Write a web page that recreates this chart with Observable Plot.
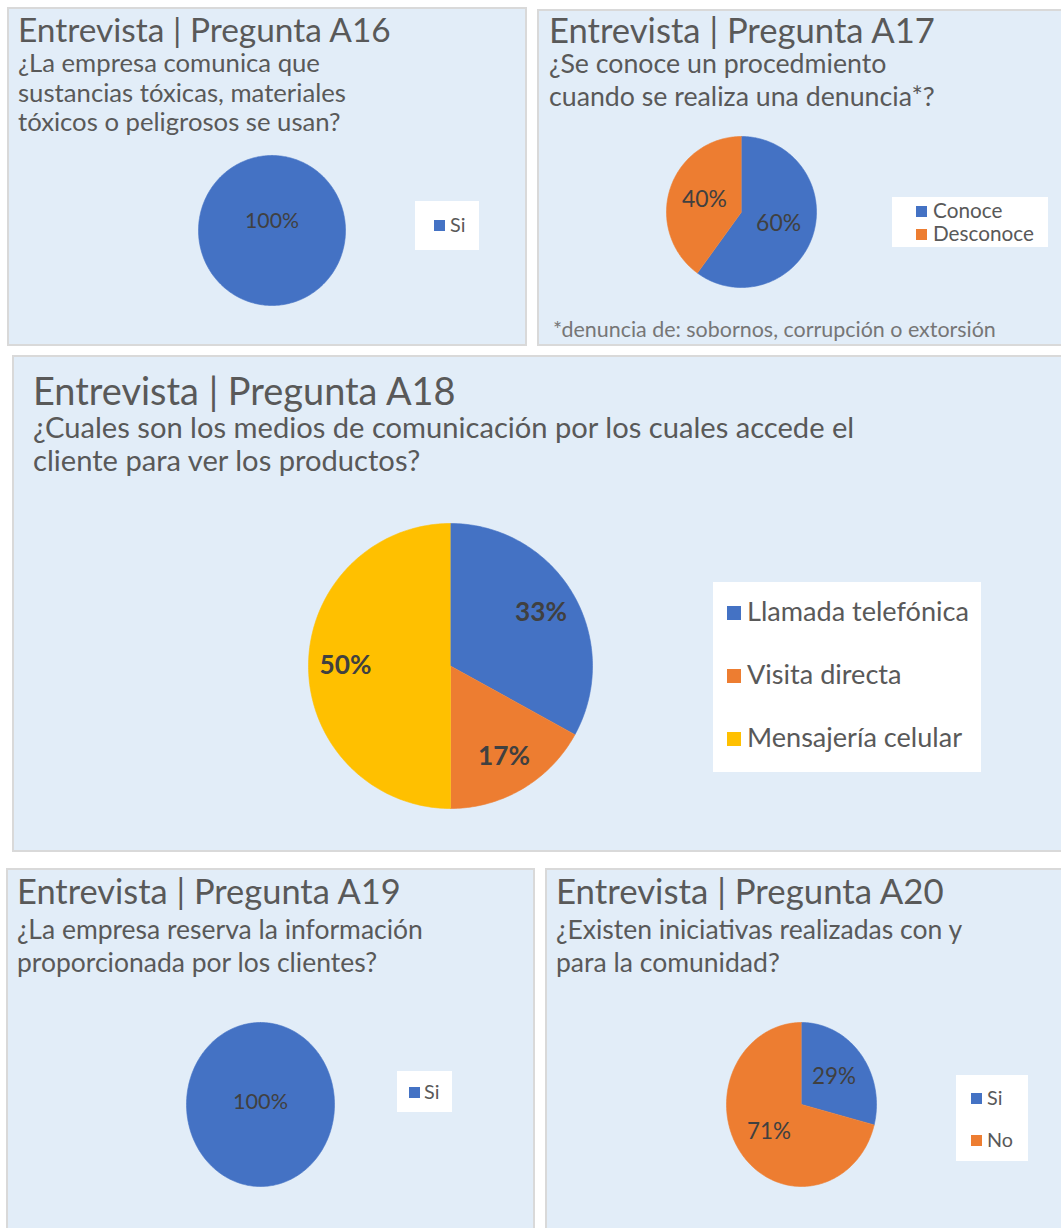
<!DOCTYPE html>
<html lang="es">
<head>
<meta charset="utf-8">
<script src="https://cdn.jsdelivr.net/npm/d3@7"></script>
<script src="https://cdn.jsdelivr.net/npm/@observablehq/plot@0.6"></script>
<style>
html,body{margin:0;padding:0;background:#fff;}
#page{position:relative;width:1061px;height:1228px;overflow:hidden;font-family:Lato,"Noto Sans",sans-serif;}
#page > svg.bg{position:absolute;left:0;top:0;}
.pie{position:absolute;}
.pie svg{display:block;background:transparent !important;max-width:none !important;overflow:visible;}
</style>
</head>
<body>
<div id="page"></div>
<script>
// ---------------- data ----------------
const questionIds = ["A16", "A17", "A18", "A19", "A20"];
const titleTexts = questionIds.map(q => `Entrevista | Pregunta ${q}`);
const questionLines = [
  ["¿La empresa comunica que", "sustancias tóxicas, materiales", "tóxicos o peligrosos se usan?"],
  ["¿Se conoce un procedmiento", "cuando se realiza una denuncia*?"],
  ["¿Cuales son los medios de comunicación por los cuales accede el", "cliente para ver los productos?"],
  ["¿La empresa reserva la información", "proporcionada por los clientes?"],
  ["¿Existen iniciativas realizadas con y", "para la comunidad?"]
];
const a17Note = "*denuncia de: sobornos, corrupción o extorsión";

const a16Categories = ["Si"];
const a16Values = [100];
const a17Categories = ["Conoce", "Desconoce"];
const a17Values = [60, 40];
const a18Categories = ["Llamada telefónica", "Visita directa", "Mensajería celular"];
const a18Values = [33, 17, 50];
const a19Categories = ["Si"];
const a19Values = [100];
const a20Categories = ["Si", "No"];
const a20Values = [29, 71];
const sliceColors = ["#4472C4", "#ED7D31", "#FFC000"];

const series = [
  {cats: a16Categories, vals: a16Values},
  {cats: a17Categories, vals: a17Values},
  {cats: a18Categories, vals: a18Values},
  {cats: a19Categories, vals: a19Values},
  {cats: a20Categories, vals: a20Values}
];

// ---------------- layout ----------------
const W = 1061, H = 1228;
const FONT = "Lato";
const panelBoxes = [
  {x: 7, y: 7, w: 520, h: 339},
  {x: 537, y: 9, w: 530, h: 337},
  {x: 12, y: 355, w: 1055, h: 497},
  {x: 6, y: 868, w: 529, h: 370},
  {x: 545, y: 868, w: 522, h: 370}
];
const textLayout = [
  {x: 18, titleBase: 42, titleW: 374, subBase: [72, 102, 131], subRef: 1, subW: 328},
  {x: 549, titleBase: 43, titleW: 387, subBase: [73, 106], subRef: 1, subW: 386},
  {x: 33, titleBase: 405, titleW: 424, subBase: [438, 471], subRef: 0, subW: 822},
  {x: 17, titleBase: 904, titleW: 385, subBase: [939, 972], subRef: 0, subW: 406},
  {x: 556, titleBase: 904, titleW: 389, subBase: [939, 972], subRef: 0, subW: 407}
];
const noteLayout = {x: 553, base: 337, w: 443};
const pieLayout = [
  {cx: 271.5, cy: 230, rx: 73.5, ry: 75, labelR: 0, dy: -9, refW: 54, weight: "normal"},
  {cx: 741, cy: 211.5, rx: 75, ry: 75.5, labelR: 0.52, dy: 0, refW: 45, weight: "normal"},
  {cx: 450, cy: 665.5, rx: 142, ry: 142.5, labelR: 0.74, dy: 0, refW: 52, weight: "bold"},
  {cx: 260, cy: 1104, rx: 74, ry: 82, labelR: 0, dy: -2, refW: 55, weight: "normal"},
  {cx: 801, cy: 1104, rx: 75, ry: 82, labelR: 0.55, dy: 0, refW: 44, weight: "normal"}
];
const legendLayout = [
  {x: 415, y: 201, w: 64, h: 49, mx: 434, ms: 11, tx: 450, base: [232], refW: 26, refText: "No"},
  {x: 892, y: 197, w: 156, h: 50, mx: 916, ms: 11, tx: 933, base: [218, 241], refW: 101, refText: "Desconoce"},
  {x: 713, y: 582, w: 268, h: 190, mx: 727, ms: 14, tx: 747, base: [621, 684, 747], refW: 222, refText: "Llamada telefónica"},
  {x: 397, y: 1071, w: 55, h: 41, mx: 409, ms: 11, tx: 424, base: [1099], refW: 26, refText: "No"},
  {x: 956, y: 1075, w: 72, h: 86, mx: 971, ms: 11, tx: 987, base: [1105, 1147], refW: 26, refText: "No"}
];

// font-size fitting via canvas measurement
const ctx = document.createElement("canvas").getContext("2d");
function fitSize(text, target, weight = "normal") {
  ctx.font = `${weight} 100px ${FONT}`;
  return 100 * target / ctx.measureText(text).width;
}

const page = d3.select("#page");
const svg = page.append("svg").attr("class", "bg").attr("width", W).attr("height", H)
  .attr("font-family", FONT);

// panels
svg.selectAll("rect.panel").data(panelBoxes).join("rect")
  .attr("class", "panel")
  .attr("x", d => d.x + 1).attr("y", d => d.y + 1)
  .attr("width", d => d.w - 2).attr("height", d => d.h - 2)
  .attr("fill", "#E2EDF8").attr("stroke", "#D9D9D9").attr("stroke-width", 2);

// titles and questions
textLayout.forEach((t, i) => {
  const fsT = fitSize(titleTexts[i], t.titleW);
  svg.append("text").attr("x", t.x).attr("y", t.titleBase)
    .attr("font-size", fsT).attr("fill", "#595959").text(titleTexts[i]);
  const fsS = fitSize(questionLines[i][t.subRef], t.subW);
  questionLines[i].forEach((line, j) => {
    svg.append("text").attr("x", t.x).attr("y", t.subBase[j])
      .attr("font-size", fsS).attr("fill", "#595959").text(line);
  });
});
svg.append("text").attr("x", noteLayout.x).attr("y", noteLayout.base)
  .attr("font-size", fitSize(a17Note, noteLayout.w)).attr("fill", "#767676").text(a17Note);

// legends
legendLayout.forEach((L, i) => {
  const g = svg.append("g");
  g.append("rect").attr("x", L.x).attr("y", L.y).attr("width", L.w).attr("height", L.h).attr("fill", "#fff");
  const fs = fitSize(L.refText, L.refW);
  series[i].cats.forEach((c, j) => {
    g.append("rect").attr("x", L.mx).attr("y", L.base[j] - L.ms - 1)
      .attr("width", L.ms).attr("height", L.ms).attr("fill", sliceColors[j]);
    g.append("text").attr("x", L.tx).attr("y", L.base[j]).attr("font-size", fs)
      .attr("fill", "#595959").text(c);
  });
});

// pies drawn with Plot
function piePlot(cats, vals, P) {
  const total = d3.sum(vals);
  const arcs = d3.pie().sort(null)(vals);
  const pts = [];
  const labels = [];
  arcs.forEach((a, i) => {
    const span = a.endAngle - a.startAngle;
    const full = span >= 2 * Math.PI - 1e-9;
    if (!full) pts.push({x: 0, y: 0, k: cats[i]});
    const n = Math.max(4, Math.ceil(span * 180 / Math.PI));
    for (let j = 0; j <= n; j++) {
      const t = a.startAngle + span * j / n;
      pts.push({x: Math.sin(t), y: Math.cos(t), k: cats[i]});
    }
    const m = (a.startAngle + a.endAngle) / 2;
    const r = full ? 0 : P.labelR;
    labels.push({x: r * Math.sin(m), y: r * Math.cos(m), t: Math.round(vals[i] / total * 100) + "%"});
  });
  const fs = fitSize(labels.reduce((a, b) => b.t.length > a.length ? b.t : a, ""), P.refW, P.weight);
  return Plot.plot({
    width: 2 * P.rx, height: 2 * P.ry, margin: 0,
    x: {domain: [-1, 1], axis: null},
    y: {domain: [-1, 1], axis: null},
    color: {domain: cats, range: sliceColors.slice(0, cats.length)},
    style: {background: "transparent", overflow: "visible", fontFamily: FONT},
    marks: [
      Plot.line(pts, {x: "x", y: "y", z: "k", fill: "k", stroke: "k", strokeWidth: 0.6}),
      Plot.text(labels, {x: "x", y: "y", text: "t", fontSize: fs, fontWeight: P.weight, fill: "#404040", dy: P.dy})
    ]
  });
}

pieLayout.forEach((P, i) => {
  const div = page.append("div").attr("class", "pie")
    .style("left", (P.cx - P.rx) + "px").style("top", (P.cy - P.ry) + "px")
    .style("width", 2 * P.rx + "px").style("height", 2 * P.ry + "px");
  div.node().appendChild(piePlot(series[i].cats, series[i].vals, P));
});
</script>
</body>
</html>
